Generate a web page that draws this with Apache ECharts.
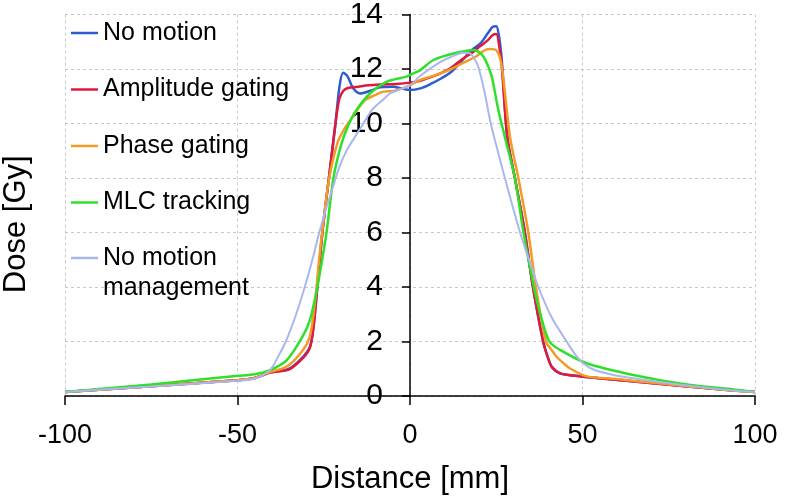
<!DOCTYPE html>
<html>
<head>
<meta charset="utf-8">
<script src="https://cdn.jsdelivr.net/npm/echarts@6/dist/echarts.min.js"></script>
<style>
html,body{margin:0;padding:0;background:#fff;}
#chart{width:786px;height:501px;}
</style>
</head>
<body>
<div id="chart"></div>
<script>
var seriesNames = ['No motion', 'Amplitude gating', 'Phase gating', 'MLC tracking', 'No motion management'];
var xTicks = [-100, -50, 0, 50, 100];
var yTicks = [0, 2, 4, 6, 8, 10, 12, 14];

var xNoMotion = [-100,-75,-50,-45,-40.6,-35,-31,-29,-28,-27,-25.4,-23.5,-21.6,-20.5,-19.4,-18.2,-16.5,-14.5,-11.5,-8.7,-5,-2.5,0,3,6,9,12,15,18,20.5,22.5,24,25,25.8,26.6,28.2,30.4,33.3,35.5,38.6,40,41.2,43.5,46,51,65,79,93.6,100];
var yNoMotion = [0.15,0.36,0.58,0.66,0.86,1.0,1.44,1.81,2.5,3.8,6.0,8.0,10.0,11.3,11.86,11.75,11.3,11.1,11.2,11.33,11.35,11.29,11.23,11.29,11.45,11.65,11.9,12.3,12.7,12.95,13.3,13.55,13.57,13.2,12.33,9.5,8.0,6.0,4.1,2.0,1.4,1.05,0.83,0.77,0.7,0.53,0.37,0.2,0.15];

var xAmplitude = [-100,-75,-50,-45,-40.6,-35,-31,-29,-28,-27,-25.4,-23.5,-21.6,-20.5,-19.3,-18,-15,-12,-8,-4,0,3,6,9,12,15,18,20.5,22.5,24,25,25.8,26.6,28.2,30.4,33.3,35.5,38.6,40,41.2,43.5,46,51,65,79,93.6,100];
var yAmplitude = [0.15,0.36,0.58,0.66,0.86,0.98,1.4,1.78,2.5,3.8,6.0,8.0,10.0,10.9,11.2,11.3,11.35,11.4,11.43,11.45,11.5,11.57,11.7,11.85,12.05,12.35,12.6,12.85,13.05,13.25,13.28,12.9,12.1,9.5,8.0,6.0,4.1,2.0,1.4,1.05,0.83,0.77,0.7,0.53,0.37,0.2,0.15];

var xPhase = [-100,-75,-50,-45,-40.6,-35.7,-31,-29,-27.5,-26.5,-25.3,-23.4,-21,-19,-17.4,-15,-13,-10,-7.7,-4.8,-2,0,3,6,9,12,15,19,21.5,23,24.5,25.5,26.3,27,29,31.4,34.3,36.5,39.4,41,42.5,44.5,46.4,51,60,65,79,93.6,100];
var yPhase = [0.15,0.36,0.58,0.66,0.88,1.08,1.69,2.2,3.5,4.8,6.2,8.0,9.3,9.8,10.1,10.55,10.86,11.05,11.17,11.19,11.3,11.4,11.6,11.72,11.85,12.0,12.2,12.45,12.68,12.73,12.72,12.6,12.3,11.72,9.5,8.0,6.0,4.0,2.0,1.7,1.44,1.2,1.01,0.73,0.62,0.55,0.38,0.2,0.15];

var xMlc = [-100,-75,-55,-50,-45,-40.6,-35.7,-30.9,-29,-27,-26,-24.2,-22.2,-20,-18,-15.5,-11.6,-6.8,-1,1,3,6.8,12.6,18.4,20,21.3,22.5,23.7,25.6,27.5,30.4,32.9,35.9,38,40.4,43.5,51.2,64.7,79.2,93.7,100];
var yMlc = [0.15,0.42,0.68,0.74,0.8,0.95,1.32,2.24,2.79,3.89,4.6,6.0,8.0,9.2,9.9,10.5,11.1,11.53,11.72,11.84,11.96,12.33,12.57,12.7,12.62,12.45,12.15,11.72,10.5,9.5,8.0,6.0,4.0,2.9,2.0,1.69,1.2,0.77,0.44,0.24,0.15];

var xNoMgmt = [-100,-75,-50,-45,-40.6,-38,-36,-33,-30.5,-28.3,-26.3,-24.5,-22.5,-20.5,-18.4,-16,-14,-11,-8,-5.8,-3,0,3,8.7,12,15.5,17.4,18.8,19.8,20.8,21.7,23.2,24.6,27.5,31.9,34.5,37.2,41,45.4,48,50.2,53,58,64.7,79,93.6,100];
var yNoMgmt = [0.15,0.35,0.56,0.64,0.95,1.5,2.0,3.0,4.0,5.0,6.0,6.8,7.6,8.4,9.0,9.5,9.9,10.5,10.85,11.1,11.25,11.4,11.75,12.25,12.45,12.6,12.57,12.35,12.08,11.6,11.1,10.13,9.39,8.0,6.0,5.0,4.0,2.9,2.0,1.5,1.2,0.98,0.8,0.65,0.4,0.2,0.15];

var colors = ['#2c5ccf', '#e01a3c', '#f39b26', '#2fe02a', '#aab7ee'];
var widths = [2.5, 2.5, 2.5, 2.5, 2];

function pairs(xs, ys) { return xs.map(function (x, i) { return [x, ys[i]]; }); }
var seriesData = [
  pairs(xNoMotion, yNoMotion),
  pairs(xAmplitude, yAmplitude),
  pairs(xPhase, yPhase),
  pairs(xMlc, yMlc),
  pairs(xNoMgmt, yNoMgmt)
];

var FONT = "'Liberation Sans', Arial, sans-serif";
var legendTops = [18, 74.5, 131, 187.5, 213];
var legends = seriesNames.map(function (n, i) {
  var last = i === 4;
  return {
    data: [n],
    left: 71,
    top: legendTops[i],
    padding: 0,
    orient: 'vertical',
    icon: 'rect',
    itemWidth: 27,
    itemHeight: 2.5,
    formatter: last ? function () { return ' \nNo motion\nmanagement'; } : undefined,
    textStyle: { fontFamily: FONT, fontSize: 25, color: '#000', lineHeight: 30 }
  };
});

var chart = echarts.init(document.getElementById('chart'), null, { renderer: 'canvas' });
chart.setOption({
  animation: false,
  backgroundColor: '#fff',
  color: colors,
  legend: legends,
  grid: { left: 65, right: 31, top: 14.5, bottom: 105, containLabel: false, outerBoundsMode: 'none' },
  xAxis: {
    type: 'value', min: -100, max: 100, interval: 50,
    name: 'Distance [mm]', nameLocation: 'middle', nameGap: 68,
    nameTextStyle: { fontFamily: FONT, fontSize: 31, color: '#000' },
    axisLine: { onZero: false, lineStyle: { color: '#000', width: 1.5 } },
    axisTick: { show: true, length: 9, lineStyle: { color: '#000', width: 1.5 } },
    axisLabel: { fontFamily: FONT, fontSize: 27, color: '#000', margin: 26,
      formatter: function (v) { return String(v); } },
    splitLine: { show: true, lineStyle: { color: '#c8c8c8', type: [3, 3], width: 1 } }
  },
  yAxis: {
    type: 'value', min: 0, max: 14, interval: 2,
    offset: -345,
    name: 'Dose [Gy]', nameLocation: 'middle', nameGap: 378, nameRotate: 90,
    nameTextStyle: { fontFamily: FONT, fontSize: 31, color: '#000', padding: [0, 38, 0, 0] },
    axisLine: { onZero: false, lineStyle: { color: '#000', width: 1.5 } },
    axisTick: { show: true, length: 8, lineStyle: { color: '#000', width: 1.5 } },
    axisLabel: { fontFamily: FONT, fontSize: 30, color: '#000', margin: 27 },
    splitLine: { show: true, lineStyle: { color: '#c8c8c8', type: [3, 3], width: 1 } }
  },
  series: seriesNames.map(function (n, i) {
    return {
      name: n, type: 'line', data: seriesData[i],
      showSymbol: false, symbol: 'none',
      smooth: 0.3,
      lineStyle: { color: colors[i], width: widths[i] },
      itemStyle: { color: colors[i] },
      z: 2 + i
    };
  })
});
</script>
</body>
</html>
